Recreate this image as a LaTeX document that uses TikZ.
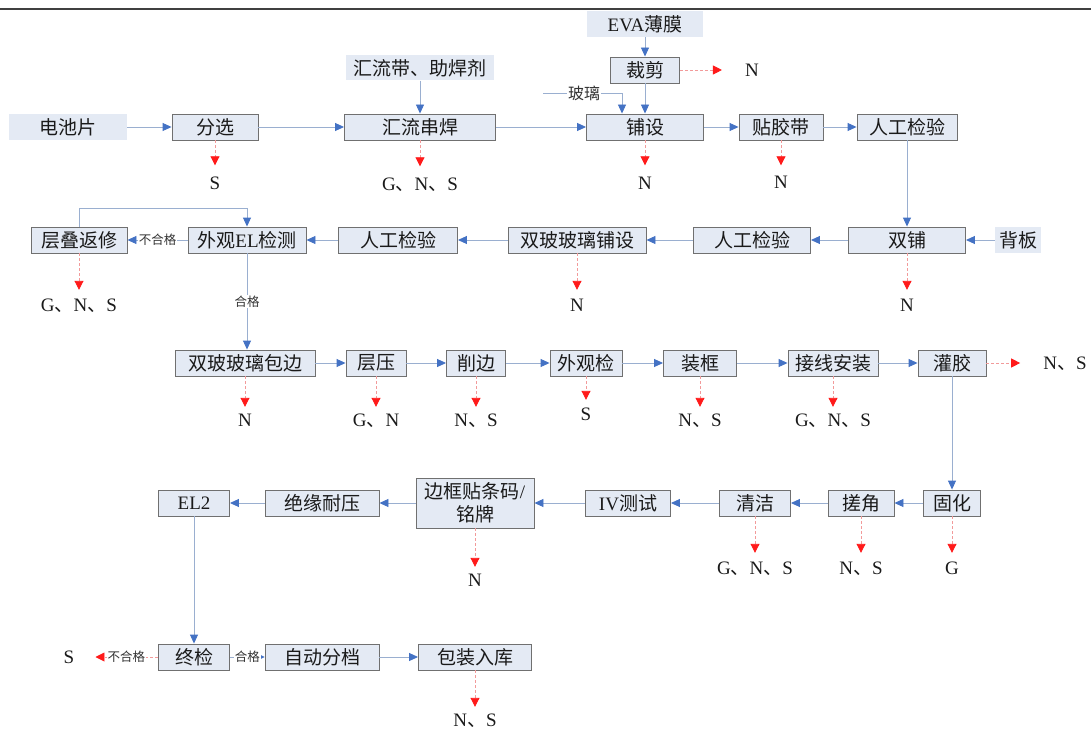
\documentclass[tikz,border=0pt]{standalone}
\usepackage{fontspec}
\setmainfont{Liberation Serif}
\newfontfamily\cjkf{Noto Sans CJK SC}
\newcommand\zhs[1]{{\cjkf #1}}
\usetikzlibrary{arrows.meta}
\definecolor{boxfill}{HTML}{E4EAF4}
\definecolor{boxdraw}{HTML}{707070}
\definecolor{linec}{HTML}{9AAFD0}
\definecolor{tipc}{HTML}{4472C4}
\definecolor{redl}{HTML}{F29A9A}
\definecolor{redt}{HTML}{FF1A1A}
\definecolor{txt}{HTML}{1A1A1A}
\tikzset{
  pbox/.style={draw=boxdraw, line width=0.9pt, fill=boxfill, minimum height=26, inner sep=0pt,
    font=\fontsize{19}{23}\selectfont, align=center, text=txt},
  src/.style={fill=boxfill, minimum height=26, inner sep=0pt, font=\fontsize{19}{23}\selectfont, text=txt},
  conn/.style={draw=linec, line width=0.9pt, -{Triangle[length=9pt,width=8pt,color=tipc]}},
  plain/.style={draw=linec, line width=0.9pt},
  rej/.style={draw=redl, line width=0.9pt, dash pattern=on 3pt off 2pt,
    -{Triangle[length=9pt,width=9pt,color=redt]}, shorten >=8.5pt},
  outl/.style={font=\fontsize{19}{23}\selectfont, inner sep=0pt, text height=13pt, text depth=0pt, text=txt},
  lbl/.style={fill=white, inner sep=1pt, font=\cjkf\fontsize{12.5}{14}\selectfont, text=black!80},
}
\begin{document}
\begin{tikzpicture}[x=1pt,y=-1pt]
\useasboundingbox (0,0) rectangle (1091,730);
\coordinate (tl) at (0,9);
\coordinate (tr) at (1091,9);
\draw[line width=1.6pt, color=black!75] (tl) -- (tr);

% ---------- row 1 ----------
\node[src, minimum width=118] (bat) at (68,127) {\zhs{电池片}};
\node[pbox, minimum width=86] (fx) at (215,127) {\zhs{分选}};
\node[pbox, minimum width=151] (hl) at (420,127) {\zhs{汇流串焊}};
\node[src, minimum width=148, minimum height=25] (hld) at (420,68) {\zhs{汇流带、助焊剂}};
\node[src, minimum width=116] (eva) at (645,24) {EVA\zhs{薄膜}};
\node[pbox, minimum width=69] (cj) at (645,70) {\zhs{裁剪}};
\node[pbox, minimum width=117] (ps) at (645,127) {\zhs{铺设}};
\node[pbox, minimum width=84] (tjd) at (781,127) {\zhs{贴胶带}};
\node[pbox, minimum width=100] (rg1) at (907,127) {\zhs{人工检验}};
\node[outl] (ncj) at (752,70) {N};

\draw[conn] (bat) -- (fx);
\draw[conn] (fx) -- (hl);
\draw[conn] (hl) -- (ps);
\draw[conn] (ps) -- (tjd);
\draw[conn] (tjd) -- (rg1);
\draw[conn] (hld) -- (hl);
\draw[conn] (eva) -- (cj);
\draw[conn] (cj) -- (ps);
\coordinate (gls) at (543,93);
\draw[conn] (gls) -| ([xshift=-23pt]ps.north);
\node[lbl, font=\cjkf\fontsize{16}{18}\selectfont] (gl) at (584,93) {玻璃};
\draw[rej, shorten >=23pt] (cj.east) -- (ncj.west);

\node[outl] (ofx) at (fx.south |- 0,183) {S};
\node[outl] (ohl) at (hl.south |- 0,184) {G\zhs{、}N\zhs{、}S};
\node[outl] (ops) at (ps.south |- 0,183) {N};
\node[outl] (otjd) at (tjd.south |- 0,182) {N};
\draw[rej, shorten >=11pt] (fx) -- (ofx);
\draw[rej, shorten >=11pt] (hl) -- (ohl);
\draw[rej, shorten >=11pt] (ps) -- (ops);
\draw[rej, shorten >=10pt] (tjd) -- (otjd);

% ---------- row 2 ----------
\node[pbox, minimum width=117] (sp) at (907,240) {\zhs{双铺}};
\node[src, minimum width=46] (bb) at (1018,240) {\zhs{背板}};
\node[pbox, minimum width=117] (rg2) at (752,240) {\zhs{人工检验}};
\node[pbox, minimum width=138] (sbpu) at (577,240) {\zhs{双玻玻璃铺设}};
\node[pbox, minimum width=119] (rg3) at (398,240) {\zhs{人工检验}};
\node[pbox, minimum width=118] (wgel) at (247,240) {\zhs{外观}EL\zhs{检测}};
\node[pbox, minimum width=96] (cdfx) at (79,240) {\zhs{层叠返修}};

\draw[conn] (rg1) -- (sp);
\draw[conn] (bb) -- (sp);
\draw[conn] (sp) -- (rg2);
\draw[conn] (rg2) -- (sbpu);
\draw[conn] (sbpu) -- (rg3);
\draw[conn] (rg3) -- (wgel);
\draw[conn] (wgel) -- node[lbl]{不合格} (cdfx);
\draw[conn] (cdfx.north) -- ++(0,-18) -| (wgel.north);

\node[outl] (osp) at (sp.south |- 0,305) {N};
\node[outl] (osbpu) at (sbpu.south |- 0,305) {N};
\node[outl] (ocdfx) at (cdfx.south |- 0,305) {G\zhs{、}N\zhs{、}S};
\draw[rej] (sp) -- (osp);
\draw[rej] (sbpu) -- (osbpu);
\draw[rej] (cdfx) -- (ocdfx);

% ---------- row 3 ----------
\node[pbox, minimum width=140] (bb3) at (245,363) {\zhs{双玻玻璃包边}};
\node[pbox, minimum width=60] (cy) at (376,363) {\zhs{层压}};
\node[pbox, minimum width=59] (xb) at (476,363) {\zhs{削边}};
\node[pbox, minimum width=72] (wgj) at (586,363) {\zhs{外观检}};
\node[pbox, minimum width=73] (zk) at (700,363) {\zhs{装框}};
\node[pbox, minimum width=90] (jx) at (833,363) {\zhs{接线安装}};
\node[pbox, minimum width=68] (gj) at (952,363) {\zhs{灌胶}};

\draw[conn] (wgel.south) -- node[lbl]{合格} (wgel.south |- bb3.north);
\draw[conn] (bb3) -- (cy);
\draw[conn] (cy) -- (xb);
\draw[conn] (xb) -- (wgj);
\draw[conn] (wgj) -- (zk);
\draw[conn] (zk) -- (jx);
\draw[conn] (jx) -- (gj);

\node[outl] (obb3) at (bb3.south |- 0,420) {N};
\node[outl] (ocy) at (cy.south |- 0,420) {G\zhs{、}N};
\node[outl] (oxb) at (xb.south |- 0,420) {N\zhs{、}S};
\node[outl] (owgj) at (wgj.south |- 0,414) {S};
\node[outl] (ozk) at (zk.south |- 0,420) {N\zhs{、}S};
\node[outl] (ojx) at (jx.south |- 0,420) {G\zhs{、}N\zhs{、}S};
\node[outl] (ogj) at (1065,363) {N\zhs{、}S};
\draw[rej, shorten >=6.5pt] (bb3) -- (obb3);
\draw[rej, shorten >=6.5pt] (cy) -- (ocy);
\draw[rej, shorten >=6.5pt] (xb) -- (oxb);
\draw[rej, shorten >=7.5pt] (wgj) -- (owgj);
\draw[rej, shorten >=6.5pt] (zk) -- (ozk);
\draw[rej, shorten >=6.5pt] (jx) -- (ojx);
\draw[rej, shorten >=23pt] (gj.east) -- (ogj.west);

% ---------- row 4 ----------
\node[pbox, minimum width=57] (gh) at (952,503) {\zhs{固化}};
\node[pbox, minimum width=66] (cuo) at (861,503) {\zhs{搓角}};
\node[pbox, minimum width=71] (qj) at (755,503) {\zhs{清洁}};
\node[pbox, minimum width=85] (iv) at (628,503) {IV\zhs{测试}};
\node[pbox, minimum width=118, minimum height=50] (bk) at (475,503) {\zhs{边框贴条码}/\\\zhs{铭牌}};
\node[pbox, minimum width=114] (jy) at (322,503) {\zhs{绝缘耐压}};
\node[pbox, minimum width=71] (el2) at (194,503) {EL2};

\draw[conn] (gj) -- (gh);
\draw[conn] (gh) -- (cuo);
\draw[conn] (cuo) -- (qj);
\draw[conn] (qj) -- (iv);
\draw[conn] (iv) -- (bk);
\draw[conn] (bk) -- (jy);
\draw[conn] (jy) -- (el2);

\node[outl] (ogh) at (gh.south |- 0,568) {G};
\node[outl] (ocuo) at (cuo.south |- 0,568) {N\zhs{、}S};
\node[outl] (oqj) at (qj.south |- 0,568) {G\zhs{、}N\zhs{、}S};
\node[outl] (obk) at (bk.south |- 0,580) {N};
\draw[rej] (gh) -- (ogh);
\draw[rej] (cuo) -- (ocuo);
\draw[rej] (qj) -- (oqj);
\draw[rej, shorten >=6.5pt] (bk) -- (obk);

% ---------- row 5 ----------
\node[pbox, minimum width=71] (zj) at (194,657) {\zhs{终检}};
\node[pbox, minimum width=114] (zd) at (322,657) {\zhs{自动分档}};
\node[pbox, minimum width=113] (bz) at (475,657) {\zhs{包装入库}};
\node[outl] (ozj) at (69,657) {S};
\node[outl] (obz) at (bz.south |- 0,720) {N\zhs{、}S};

\draw[conn] (el2) -- (zj);
\draw[draw=linec, line width=0.9pt, -{Triangle[length=6pt,width=6pt,color=tipc]}] (zj) -- node[lbl]{合格} (zd);
\draw[conn] (zd) -- (bz);
\draw[rej, shorten >=21pt] (zj.west) -- node[lbl, pos=0.38]{不合格} (ozj.east);
\draw[rej, shorten >=6.5pt] (bz) -- (obz);
\end{tikzpicture}
\end{document}
